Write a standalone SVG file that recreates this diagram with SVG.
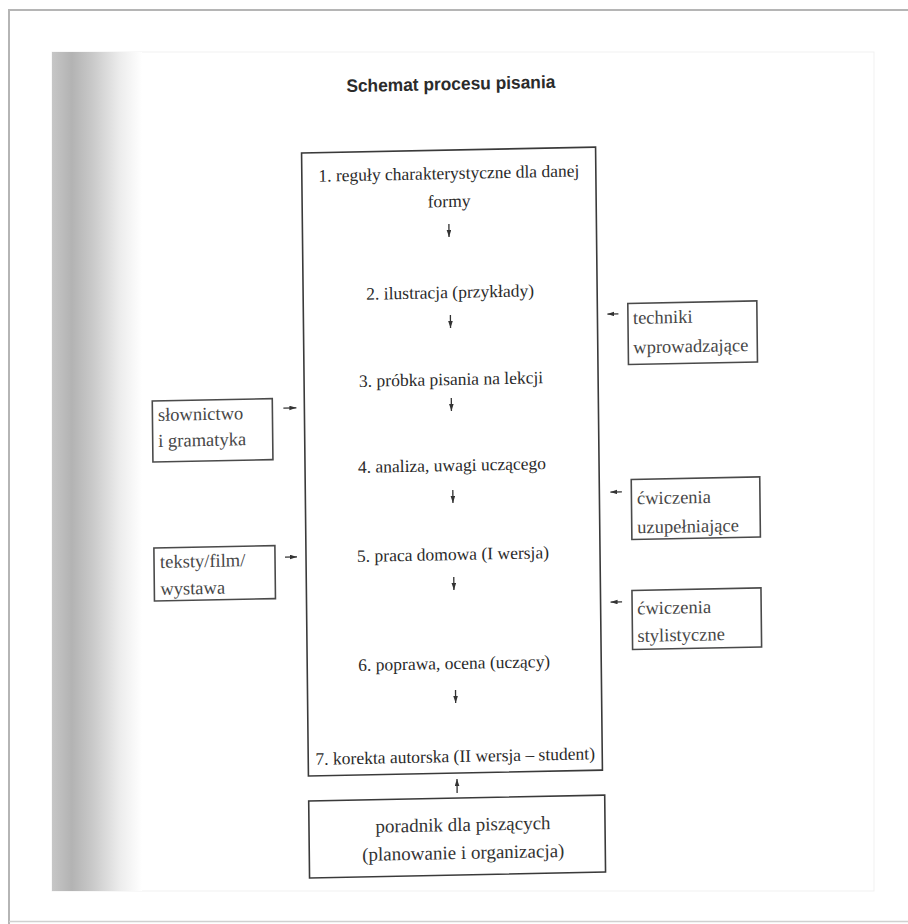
<svg xmlns="http://www.w3.org/2000/svg" width="908" height="924" viewBox="0 0 908 924">
  <defs>
    <linearGradient id="shade" x1="0" y1="0" x2="1" y2="0">
      <stop offset="0" stop-color="#c6c6c6"/>
      <stop offset="0.22" stop-color="#b3b3b3"/>
      <stop offset="0.45" stop-color="#c9c9c9"/>
      <stop offset="0.75" stop-color="#ececec"/>
      <stop offset="1" stop-color="#ffffff"/>
    </linearGradient>
    <marker id="ah" markerUnits="userSpaceOnUse" markerWidth="8" markerHeight="6" refX="7" refY="2.3" orient="auto">
      <path d="M0,0 L7,2.3 L0,4.6 z" fill="#333"/>
    </marker>
    <style>
      .main { font-family: "Liberation Serif", "Times New Roman", serif; font-size: 17.5px; fill: #2a2a2a; text-anchor: middle; }
      .side { font-family: "Liberation Serif", "Times New Roman", serif; font-size: 18.5px; fill: #474747; }
      .low { font-family: "Liberation Serif", "Times New Roman", serif; font-size: 19px; fill: #333; text-anchor: middle; }
      .title { font-family: "Liberation Sans", Arial, sans-serif; font-size: 18px; font-weight: bold; fill: #2b2b2b; text-anchor: middle; }
      .box { fill: none; stroke: #3a3a3a; stroke-width: 1.6; }
      .sbox { fill: none; stroke: #4a4a4a; stroke-width: 1.6; }
      .arr { fill: none; stroke: #333; stroke-width: 1.3; marker-end: url(#ah); }
    </style>
  </defs>

  <rect x="0" y="0" width="908" height="924" fill="#ffffff"/>
  <!-- page frame -->
  <path d="M9 924 V10 H908" fill="none" stroke="#b5b5b5" stroke-width="2"/>
  <line x1="9" y1="921.5" x2="908" y2="921.5" stroke="#d0d0d0" stroke-width="1.5"/>
  <rect x="52" y="52" width="822" height="839" fill="none" stroke="#f1f1f1" stroke-width="1"/>
  <rect x="52" y="52" width="90" height="839" fill="url(#shade)"/>

  <g transform="matrix(1 -0.02 0.011 1 -5.082 9.1)">
    <g id="title">
      <text class="title" x="455" y="90" textLength="209" lengthAdjust="spacingAndGlyphs">Schemat procesu pisania</text>
    </g>

    <g id="process">
      <rect class="box" x="305" y="150" width="294" height="623"/>
      <text class="main" x="452" y="179">1. reguły charakterystyczne dla danej</text>
      <text class="main" x="452" y="207">formy</text>
      <text class="main" x="452" y="298">2. ilustracja (przykłady)</text>
      <text class="main" x="452" y="385">3. próbka pisania na lekcji</text>
      <text class="main" x="452" y="471">4. analiza, uwagi uczącego</text>
      <text class="main" x="452" y="560">5. praca domowa (I wersja)</text>
      <text class="main" x="452" y="669">6. poprawa, ocena (uczący)</text>
      <text class="main" x="452" y="762">7. korekta autorska (II wersja – student)</text>
    </g>

    <g id="poradnik">
      <rect class="box" x="305" y="798" width="296" height="77"/>
      <text class="low" x="459" y="831">poradnik dla piszących</text>
      <text class="low" x="459" y="859">(planowanie i organizacja)</text>
    </g>

    <g id="slownictwo">
      <rect class="sbox" x="153" y="395" width="120" height="61"/>
      <text class="side" x="158.5" y="415">słownictwo</text>
      <text class="side" x="158.5" y="441">i gramatyka</text>
    </g>

    <g id="teksty">
      <rect class="sbox" x="153" y="542" width="121" height="53"/>
      <text class="side" x="159" y="562">teksty/film/</text>
      <text class="side" x="159" y="589">wystawa</text>
    </g>

    <g id="techniki">
      <rect class="sbox" x="629.5" y="307" width="129" height="61"/>
      <text class="side" x="634.5" y="327.5">techniki</text>
      <text class="side" x="634.5" y="357">wprowadzające</text>
    </g>

    <g id="cwiczenia-uzupelniajace">
      <rect class="sbox" x="631" y="483" width="128.5" height="60"/>
      <text class="side" x="636.5" y="508">ćwiczenia</text>
      <text class="side" x="636.5" y="537">uzupełniające</text>
    </g>

    <g id="cwiczenia-stylistyczne">
      <rect class="sbox" x="630.5" y="594" width="129" height="59"/>
      <text class="side" x="635.5" y="618">ćwiczenia</text>
      <text class="side" x="635.5" y="645.5">stylistyczne</text>
    </g>

    <g id="connectors">
      <path class="arr" d="M451.5 224 V237"/>
      <path class="arr" d="M452 315 V328"/>
      <path class="arr" d="M452 398 V411"/>
      <path class="arr" d="M452.5 490 V503"/>
      <path class="arr" d="M452.5 577 V590"/>
      <path class="arr" d="M453 690 V703"/>
      <path class="arr" d="M453.5 793 V779"/>
      <path class="arr" d="M284 404.7 H297"/>
      <path class="arr" d="M284 553.7 H296"/>
      <path class="arr" d="M620 317.2 H609"/>
      <path class="arr" d="M621.5 495.2 H610"/>
      <path class="arr" d="M620.5 605.2 H609"/>
    </g>
  </g>
</svg>
